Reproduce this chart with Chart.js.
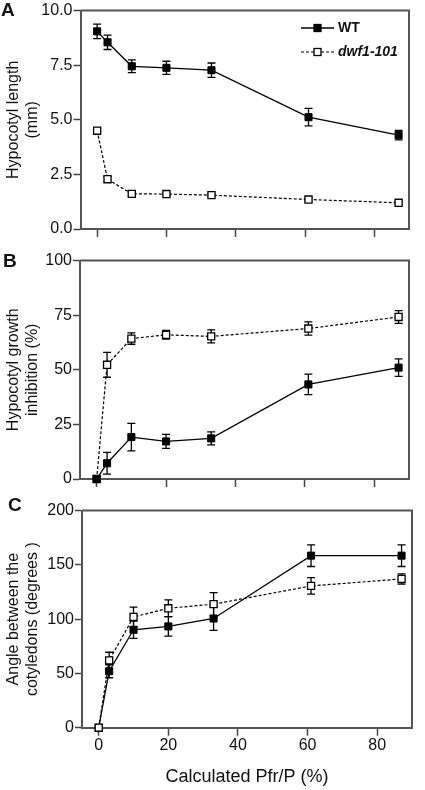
<!DOCTYPE html>
<html>
<head>
<meta charset="utf-8">
<script src="https://cdn.jsdelivr.net/npm/chart.js@4"></script>
<style>
  body { margin: 0; background: #fff; }
  #wrap { position: relative; width: 425px; height: 790px; font-family: "Liberation Sans", Arial, sans-serif; }
  canvas { position: absolute; left: 0; }
  .lbl { position: absolute; font-weight: bold; font-size: 19px; line-height: 19px; color: #111; }
</style>
</head>
<body>
<div id="wrap">
  <canvas id="chartA" width="425" height="250" style="top:0px"></canvas>
  <canvas id="chartB" width="425" height="250" style="top:250px"></canvas>
  <canvas id="chartC" width="425" height="290" style="top:500px"></canvas>
  <div class="lbl" style="top:0px; left:1px">A</div>
  <div class="lbl" style="top:250.5px; left:3px">B</div>
  <div class="lbl" style="top:494.5px; left:8px">C</div>
</div>
<script>
// shared x values (Calculated Pfr/P, %)
const xValues = [0, 3, 10, 20, 33, 61, 87];
const xTicks = [0, 20, 40, 60, 80];
const seriesNames = ['WT', 'dwf1-101'];

// A - hypocotyl length (mm)
const wtLength = [9.05, 8.55, 7.45, 7.38, 7.27, 5.12, 4.3];
const wtLengthErr = [0.33, 0.33, 0.29, 0.3, 0.33, 0.4, 0.22];
const dwfLength = [4.5, 2.28, 1.61, 1.6, 1.55, 1.35, 1.2];
const dwfLengthErr = [0.1, 0.12, 0.08, 0.07, 0.07, 0.08, 0.07];

// B - hypocotyl growth inhibition (%)
const wtInhib = [0, 7.2, 19.2, 17.2, 18.6, 43.3, 51];
const wtInhibErr = [0, 5, 6.3, 3.2, 3, 4.7, 4];
const dwfInhib = [0, 52.3, 64.3, 66, 65.3, 68.9, 74.2];
const dwfInhibErr = [0, 5.7, 2.6, 2, 3, 3, 2.9];

// C - angle between the cotyledons (degrees)
const wtAngle = [0, 52, 90.2, 93.3, 100.6, 158.5, 158.5];
const wtAngleErr = [0, 6, 8, 9, 11, 10, 10];
const dwfAngle = [0, 62, 102, 110, 113.8, 130.6, 137];
const dwfAngleErr = [0, 7.5, 9, 7.7, 10.6, 7.6, 4.7];

Chart.defaults.font.family = '"Liberation Sans", Arial, sans-serif';
Chart.defaults.color = '#111';
const frameColor = '#555';

function points(ys) {
  return xValues.map((x, i) => ({ x: x, y: ys[i] }));
}

//draws top and right side of the box
const frame = {
  id: 'frame',
  beforeDatasetsDraw(chart) {
    const ctx = chart.ctx, a = chart.chartArea;
    ctx.save();
    ctx.strokeStyle = frameColor;
    ctx.lineWidth = 2;
    ctx.beginPath();
    ctx.moveTo(a.left, a.top);
    ctx.lineTo(a.right, a.top);
    ctx.lineTo(a.right, a.bottom);
    ctx.stroke();
    ctx.restore();
  }
};

//error bars (behind the markers)
const errorBars = {
  id: 'errorBars',
  beforeDatasetsDraw(chart) {
    const ctx = chart.ctx, xs = chart.scales.x, ys = chart.scales.y;
    ctx.save();
    ctx.strokeStyle = '#000';
    ctx.lineWidth = 1.3;
    chart.data.datasets.forEach(ds => {
      ds.data.forEach((p, i) => {
        const e = ds.errors[i];
        if (!e) return;
        const px = xs.getPixelForValue(p.x);
        const top = ys.getPixelForValue(p.y + e);
        const bot = ys.getPixelForValue(p.y - e);
        ctx.beginPath();
        ctx.moveTo(px, top); ctx.lineTo(px, bot);
        ctx.moveTo(px - 4, top); ctx.lineTo(px + 4, top);
        ctx.moveTo(px - 4, bot); ctx.lineTo(px + 4, bot);
        ctx.stroke();
      });
    });
    ctx.restore();
  }
};

//legend in panel A
const legendBox = {
  id: 'legendBox',
  afterDraw(chart) {
    const ctx = chart.ctx;
    const rowsY = [28, 52];
    ctx.save();
    chart.data.datasets.forEach((ds, i) => {
      const y = rowsY[i];
      ctx.strokeStyle = '#000';
      ctx.lineWidth = ds.borderWidth;
      ctx.setLineDash(ds.borderDash || []);
      ctx.beginPath();
      ctx.moveTo(301, y); ctx.lineTo(334, y);
      ctx.stroke();
      ctx.setLineDash([]);
      ctx.fillStyle = ds.pointBackgroundColor;
      ctx.fillRect(314, y - 3.5, 7, 7);
      ctx.lineWidth = 1.3;
      ctx.strokeRect(314, y - 3.5, 7, 7);
      ctx.fillStyle = '#111';
      ctx.font = (i === 1 ? 'italic ' : '') + 'bold 14px "Liberation Sans", Arial, sans-serif';
      ctx.textBaseline = 'middle';
      ctx.fillText(seriesNames[i], 338, y + 0.5);
    });
    ctx.restore();
  }
};

function makePanel(id, cfg) {
  const wt = {
    label: seriesNames[0],
    data: points(cfg.wt),
    errors: cfg.wtErr,
    borderColor: '#000',
    borderWidth: 1.3,
    pointStyle: 'rect',
    pointRadius: 5,
    pointBackgroundColor: '#000',
    pointBorderColor: '#000',
    pointBorderWidth: 1,
    clip: false,
    order: cfg.wtOrder
  };
  const dwf = {
    label: seriesNames[1],
    data: points(cfg.dwf),
    errors: cfg.dwfErr,
    borderColor: '#000',
    borderWidth: 1.2,
    borderDash: [3, 2],
    pointStyle: 'rect',
    pointRadius: 5,
    pointBackgroundColor: '#fff',
    pointBorderColor: '#000',
    pointBorderWidth: 1.3,
    clip: false,
    order: cfg.dwfOrder
  };
  return new Chart(document.getElementById(id), {
    type: 'line',
    data: { datasets: [wt, dwf] },
    options: {
      responsive: false,
      animation: false,
      devicePixelRatio: 1,
      layout: { autoPadding: false, padding: { top: cfg.top, right: 425 - cfg.right, left: 0, bottom: 0 } },
      plugins: { legend: { display: false }, tooltip: { enabled: false } },
      scales: {
        x: {
          type: 'linear',
          min: -4.8,
          max: 90,
          afterBuildTicks: s => { s.ticks = xTicks.map(v => ({ value: v })); },
          afterFit: s => { s.height = cfg.xHeight; },
          grid: { drawOnChartArea: false, drawTicks: true, tickLength: 8, tickWidth: 1.5, tickColor: '#444' },
          border: { color: frameColor, width: 2 },
          ticks: { display: cfg.showX, padding: 0, font: { size: 16 } },
          title: {
            display: cfg.showX,
            text: 'Calculated Pfr/P (%)',
            font: { size: 18 },
            padding: { top: 0, bottom: 2.5 }
          }
        },
        y: {
          min: 0,
          max: cfg.yMax,
          ticks: {
            stepSize: cfg.yStep,
            padding: 1,
            font: { size: 16 },
            callback: v => cfg.decimals ? v.toFixed(1) : v
          },
          afterFit: s => { s.width = cfg.left; },
          grid: { drawOnChartArea: false, drawTicks: true, tickLength: 7, tickWidth: 1.5, tickColor: '#444' },
          border: { color: frameColor, width: 2 },
          title: {
            display: true,
            text: cfg.yTitle,
            font: { size: 16, lineHeight: 1.15 },
            padding: { top: 4.5, bottom: 0 }
          }
        }
      }
    },
    plugins: cfg.legend ? [frame, errorBars, legendBox] : [frame, errorBars]
  });
}

makePanel('chartA', {
  wt: wtLength, wtErr: wtLengthErr, dwf: dwfLength, dwfErr: dwfLengthErr,
  wtOrder: 0, dwfOrder: 1,
  top: 10, right: 409, left: 80.5, xHeight: 21, showX: false,
  yMax: 10, yStep: 2.5, decimals: true,
  yTitle: ['Hypocotyl length', '(mm)'], legend: true
});

makePanel('chartB', {
  wt: wtInhib, wtErr: wtInhibErr, dwf: dwfInhib, dwfErr: dwfInhibErr,
  wtOrder: 0, dwfOrder: 1,
  top: 8.3, right: 409, left: 80, xHeight: 21, showX: false,
  yMax: 100, yStep: 25, decimals: false,
  yTitle: ['Hypocotyl growth', 'inhibition (%)'], legend: false
});

makePanel('chartC', {
  wt: wtAngle, wtErr: wtAngleErr, dwf: dwfAngle, dwfErr: dwfAngleErr,
  wtOrder: 1, dwfOrder: 0,
  top: 8.7, right: 412, left: 82, xHeight: 62.3, showX: true,
  yMax: 200, yStep: 50, decimals: false,
  yTitle: ['Angle between the', 'cotyledons (degrees )'], legend: false
});
</script>
</body>
</html>
